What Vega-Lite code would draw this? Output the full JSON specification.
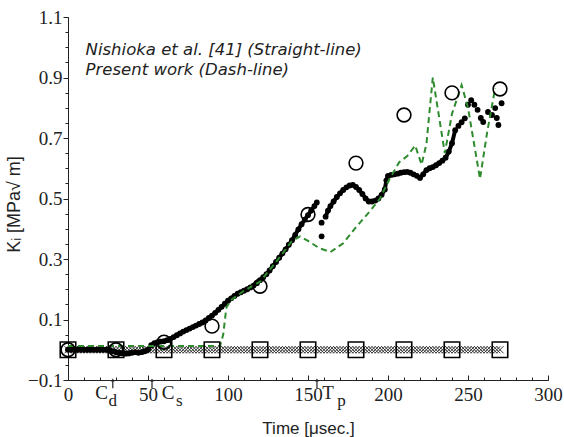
{
  "$schema": "https://vega.github.io/schema/vega-lite/v6.json",
  "width": 480,
  "height": 363,
  "autosize": {"type": "none"},
  "padding": {"left": 68, "top": 17, "right": 16, "bottom": 57},
  "background": "white",
  "config": {"view": {"stroke": null}, "axis": {"grid": false}},
  "resolve": {"axis": {"x": "independent", "y": "independent"}},
  "datasets": {
    "hatch": [{"t":0,"k":0},{"t":2,"k":0},{"t":4,"k":0},{"t":6,"k":0},{"t":8,"k":0},{"t":10,"k":0},{"t":12,"k":0},{"t":14,"k":0},{"t":16,"k":0},{"t":18,"k":0},{"t":20,"k":0},{"t":22,"k":0},{"t":24,"k":0},{"t":26,"k":0},{"t":28,"k":0},{"t":30,"k":0},{"t":32,"k":0},{"t":34,"k":0},{"t":36,"k":0},{"t":38,"k":0},{"t":40,"k":0},{"t":42,"k":0},{"t":44,"k":0},{"t":46,"k":0},{"t":48,"k":0},{"t":50,"k":0},{"t":52,"k":0},{"t":54,"k":0},{"t":56,"k":0},{"t":58,"k":0},{"t":60,"k":0},{"t":62,"k":0},{"t":64,"k":0},{"t":66,"k":0},{"t":68,"k":0},{"t":70,"k":0},{"t":72,"k":0},{"t":74,"k":0},{"t":76,"k":0},{"t":78,"k":0},{"t":80,"k":0},{"t":82,"k":0},{"t":84,"k":0},{"t":86,"k":0},{"t":88,"k":0},{"t":90,"k":0},{"t":92,"k":0},{"t":94,"k":0},{"t":96,"k":0},{"t":98,"k":0},{"t":100,"k":0},{"t":102,"k":0},{"t":104,"k":0},{"t":106,"k":0},{"t":108,"k":0},{"t":110,"k":0},{"t":112,"k":0},{"t":114,"k":0},{"t":116,"k":0},{"t":118,"k":0},{"t":120,"k":0},{"t":122,"k":0},{"t":124,"k":0},{"t":126,"k":0},{"t":128,"k":0},{"t":130,"k":0},{"t":132,"k":0},{"t":134,"k":0},{"t":136,"k":0},{"t":138,"k":0},{"t":140,"k":0},{"t":142,"k":0},{"t":144,"k":0},{"t":146,"k":0},{"t":148,"k":0},{"t":150,"k":0},{"t":152,"k":0},{"t":154,"k":0},{"t":156,"k":0},{"t":158,"k":0},{"t":160,"k":0},{"t":162,"k":0},{"t":164,"k":0},{"t":166,"k":0},{"t":168,"k":0},{"t":170,"k":0},{"t":172,"k":0},{"t":174,"k":0},{"t":176,"k":0},{"t":178,"k":0},{"t":180,"k":0},{"t":182,"k":0},{"t":184,"k":0},{"t":186,"k":0},{"t":188,"k":0},{"t":190,"k":0},{"t":192,"k":0},{"t":194,"k":0},{"t":196,"k":0},{"t":198,"k":0},{"t":200,"k":0},{"t":202,"k":0},{"t":204,"k":0},{"t":206,"k":0},{"t":208,"k":0},{"t":210,"k":0},{"t":212,"k":0},{"t":214,"k":0},{"t":216,"k":0},{"t":218,"k":0},{"t":220,"k":0},{"t":222,"k":0},{"t":224,"k":0},{"t":226,"k":0},{"t":228,"k":0},{"t":230,"k":0},{"t":232,"k":0},{"t":234,"k":0},{"t":236,"k":0},{"t":238,"k":0},{"t":240,"k":0},{"t":242,"k":0},{"t":244,"k":0},{"t":246,"k":0},{"t":248,"k":0},{"t":250,"k":0},{"t":252,"k":0},{"t":254,"k":0},{"t":256,"k":0},{"t":258,"k":0},{"t":260,"k":0},{"t":262,"k":0},{"t":264,"k":0},{"t":266,"k":0},{"t":268,"k":0},{"t":270,"k":0}],
    "dots": [{"t":0,"k":0},{"t":2,"k":0},{"t":4,"k":0},{"t":6,"k":0},{"t":8,"k":0},{"t":10,"k":0},{"t":12,"k":0},{"t":14,"k":0},{"t":16,"k":0},{"t":18,"k":0},{"t":20,"k":0},{"t":22,"k":0},{"t":24,"k":0},{"t":26,"k":-0.002},{"t":28,"k":-0.005},{"t":30,"k":-0.008},{"t":32,"k":-0.01},{"t":34,"k":-0.012},{"t":36,"k":-0.013},{"t":38,"k":-0.012},{"t":40,"k":-0.01},{"t":42,"k":-0.008},{"t":44,"k":-0.01},{"t":46,"k":-0.008},{"t":48,"k":-0.005},{"t":50,"k":0.0},{"t":52,"k":0.015},{"t":54,"k":0.022},{"t":56,"k":0.025},{"t":58,"k":0.027},{"t":60,"k":0.028},{"t":62,"k":0.032},{"t":64,"k":0.036},{"t":66,"k":0.042},{"t":68,"k":0.048},{"t":70,"k":0.054},{"t":72,"k":0.06},{"t":74,"k":0.065},{"t":76,"k":0.07},{"t":78,"k":0.075},{"t":80,"k":0.08},{"t":82,"k":0.085},{"t":84,"k":0.09},{"t":86,"k":0.097},{"t":88,"k":0.105},{"t":90,"k":0.113},{"t":92,"k":0.122},{"t":94,"k":0.132},{"t":96,"k":0.142},{"t":98,"k":0.152},{"t":100,"k":0.162},{"t":102,"k":0.17},{"t":104,"k":0.178},{"t":106,"k":0.185},{"t":108,"k":0.19},{"t":110,"k":0.195},{"t":112,"k":0.2},{"t":114,"k":0.206},{"t":116,"k":0.212},{"t":118,"k":0.22},{"t":120,"k":0.23},{"t":122,"k":0.24},{"t":124,"k":0.25},{"t":126,"k":0.262},{"t":128,"k":0.276},{"t":130,"k":0.29},{"t":132,"k":0.304},{"t":134,"k":0.318},{"t":136,"k":0.332},{"t":138,"k":0.347},{"t":140,"k":0.362},{"t":142,"k":0.38},{"t":144,"k":0.398},{"t":146,"k":0.415},{"t":148,"k":0.43},{"t":150,"k":0.445},{"t":152,"k":0.46},{"t":154,"k":0.475},{"t":155.5,"k":0.487},{"t":158.5,"k":0.42},{"t":158.5,"k":0.375},{"t":161,"k":0.44},{"t":162.5,"k":0.46},{"t":164,"k":0.475},{"t":166,"k":0.49},{"t":168,"k":0.505},{"t":170,"k":0.517},{"t":172,"k":0.528},{"t":174,"k":0.537},{"t":176,"k":0.543},{"t":178,"k":0.545},{"t":180,"k":0.538},{"t":182,"k":0.528},{"t":184,"k":0.515},{"t":186,"k":0.5},{"t":188,"k":0.49},{"t":190,"k":0.49},{"t":192,"k":0.493},{"t":194,"k":0.5},{"t":196,"k":0.512},{"t":198,"k":0.53},{"t":199,"k":0.56},{"t":200,"k":0.575},{"t":202,"k":0.578},{"t":204,"k":0.58},{"t":206,"k":0.582},{"t":208,"k":0.585},{"t":210,"k":0.587},{"t":212,"k":0.588},{"t":214,"k":0.585},{"t":216,"k":0.58},{"t":218,"k":0.575},{"t":220,"k":0.568},{"t":222,"k":0.58},{"t":224,"k":0.594},{"t":226,"k":0.6},{"t":228,"k":0.604},{"t":230,"k":0.61},{"t":232,"k":0.617},{"t":234,"k":0.625},{"t":236,"k":0.635},{"t":238,"k":0.655},{"t":240,"k":0.683},{"t":242,"k":0.726},{"t":244,"k":0.74},{"t":246,"k":0.752},{"t":248,"k":0.765},{"t":250,"k":0.81},{"t":252,"k":0.825},{"t":254,"k":0.81},{"t":256,"k":0.793},{"t":258,"k":0.766},{"t":259.5,"k":0.753},{"t":262.5,"k":0.786},{"t":265,"k":0.776},{"t":267,"k":0.799},{"t":268,"k":0.766},{"t":269,"k":0.743},{"t":271,"k":0.815}],
    "green": [{"t":0,"k":0.012},{"t":95,"k":0.012},{"t":97,"k":0.05},{"t":99,"k":0.14},{"t":102,"k":0.165},{"t":110,"k":0.195},{"t":120,"k":0.225},{"t":130,"k":0.29},{"t":140,"k":0.36},{"t":145,"k":0.375},{"t":150,"k":0.36},{"t":157,"k":0.336},{"t":164,"k":0.323},{"t":172,"k":0.352},{"t":180,"k":0.405},{"t":189,"k":0.46},{"t":195,"k":0.5},{"t":201,"k":0.565},{"t":207,"k":0.62},{"t":212,"k":0.64},{"t":217,"k":0.675},{"t":221,"k":0.612},{"t":224,"k":0.68},{"t":228,"k":0.9},{"t":235.5,"k":0.65},{"t":240,"k":0.78},{"t":246,"k":0.875},{"t":250,"k":0.8},{"t":257.5,"k":0.565},{"t":262,"k":0.72},{"t":267,"k":0.865}],
    "circles": [{"t":0,"k":0},{"t":30,"k":0},{"t":60,"k":0.025},{"t":90,"k":0.078},{"t":120,"k":0.21},{"t":150,"k":0.447},{"t":180,"k":0.617},{"t":210,"k":0.776},{"t":240,"k":0.849},{"t":270,"k":0.862}],
    "squares": [{"t":0,"k":0},{"t":30,"k":0},{"t":60,"k":0},{"t":90,"k":0},{"t":120,"k":0},{"t":150,"k":0},{"t":180,"k":0},{"t":210,"k":0},{"t":240,"k":0},{"t":270,"k":0}],
    "notes": [{"t":11,"k":0.991,"txt":"Nishioka et al. [41] (Straight-line)"},{"t":11,"k":0.925,"txt":"Present work (Dash-line)"}],
    "marks": [{"t":21,"txt":"C"},{"t":62.5,"txt":"C"},{"t":162.5,"txt":"T"}],
    "subs": [{"t":28,"txt":"d"},{"t":69.5,"txt":"s"},{"t":171,"txt":"p"}],
    "arrows": [{"t":28,"k0":-0.1,"k1":-0.127},{"t":52.5,"k0":-0.1,"k1":-0.127},{"t":155.6,"k0":-0.1,"k1":-0.127}]
  },
  "layer": [
    {
      "data": {"name": "hatch"},
      "mark": {"type": "point", "shape": "M-1,-1L1,1M-1,1L1,-1", "filled": false, "size": 50, "stroke": "#333333", "strokeWidth": 1, "opacity": 1},
      "encoding": {
        "x": {"field": "t", "type": "quantitative", "scale": {"domain": [0, 300], "nice": false, "zero": false},
          "axis": {"orient": "bottom", "values": [0,50,100,150,200,250,300],
            "title": "Time [μsec.]", "titleFont": "Liberation Sans", "titleFontSize": 17, "titleFontWeight": "normal", "titleColor": "#222222", "titlePadding": 16,
            "labelFont": "Liberation Serif", "labelFontSize": 19, "labelColor": "#222222", "labelPadding": 10, "labelFlush": false, "labelOverlap": false,
            "domainColor": "#222222", "tickColor": "#222222", "tickSize": -5}},
        "y": {"field": "k", "type": "quantitative", "scale": {"domain": [-0.1, 1.1], "nice": false, "zero": false},
          "axis": {"orient": "left", "values": [-0.1,0.1,0.3,0.5,0.7,0.9,1.1], "format": ".1f",
            "title": "Kᵢ [MPa√ m]", "titleFont": "Liberation Sans", "titleFontSize": 18, "titleFontWeight": "normal", "titleColor": "#222222",
            "titleX": -54, "titleY": 187, "titleBaseline": "middle", "titleAnchor": "middle", "titleAngle": 270,
            "labelFont": "Liberation Serif", "labelFontSize": 19, "labelColor": "#222222", "labelPadding": 1, "labelFlush": false, "labelOverlap": false,
            "domainColor": "#222222", "tickColor": "#222222", "tickSize": 5}}
      }
    },
    {
      "data": {"name": "dots"},
      "transform": [{"filter": "datum.t <= 155.5"}],
      "mark": {"type": "line", "color": "#000000", "strokeWidth": 4},
      "encoding": {
        "x": {"field": "t", "type": "quantitative",
          "axis": {"orient": "bottom", "values": [0,10,20,30,40,50,60,70,80,90,100,110,120,130,140,150,160,170,180,190,200,210,220,230,240,250,260,270,280,290,300],
            "labels": false, "title": null, "domain": false, "tickColor": "#222222", "tickSize": -3}},
        "y": {"field": "k", "type": "quantitative",
          "axis": {"orient": "left", "values": [-0.1,-0.05,0,0.05,0.1,0.15,0.2,0.25,0.3,0.35,0.4,0.45,0.5,0.55,0.6,0.65,0.7,0.75,0.8,0.85,0.9,0.95,1.0,1.05,1.1],
            "labels": false, "title": null, "domain": false, "tickColor": "#222222", "tickSize": 3}}
      }
    },
    {
      "data": {"name": "dots"},
      "transform": [{"filter": "datum.t >= 161 && datum.t <= 242"}],
      "mark": {"type": "line", "color": "#000000", "strokeWidth": 4},
      "encoding": {"x": {"field": "t", "type": "quantitative", "axis": null}, "y": {"field": "k", "type": "quantitative", "axis": null}}
    },
    {
      "data": {"name": "dots"},
      "mark": {"type": "circle", "size": 34, "color": "#000000", "opacity": 1},
      "encoding": {"x": {"field": "t", "type": "quantitative", "axis": null}, "y": {"field": "k", "type": "quantitative", "axis": null}}
    },
    {
      "data": {"name": "green"},
      "mark": {"type": "line", "color": "#2e8b2e", "strokeWidth": 2, "strokeDash": [6, 4]},
      "encoding": {"x": {"field": "t", "type": "quantitative", "axis": null}, "y": {"field": "k", "type": "quantitative", "axis": null}}
    },
    {
      "data": {"name": "squares"},
      "mark": {"type": "point", "shape": "square", "filled": false, "size": 240, "stroke": "#000000", "strokeWidth": 1.6, "opacity": 1},
      "encoding": {"x": {"field": "t", "type": "quantitative", "axis": null}, "y": {"field": "k", "type": "quantitative", "axis": null}}
    },
    {
      "data": {"name": "circles"},
      "mark": {"type": "point", "shape": "circle", "filled": false, "size": 190, "stroke": "#000000", "strokeWidth": 1.6, "opacity": 1},
      "encoding": {"x": {"field": "t", "type": "quantitative", "axis": null}, "y": {"field": "k", "type": "quantitative", "axis": null}}
    },
    {
      "data": {"name": "notes"},
      "mark": {"type": "text", "align": "left", "baseline": "middle", "font": "DejaVu Sans", "fontSize": 16.5, "fontStyle": "italic", "color": "#222222"},
      "encoding": {"x": {"field": "t", "type": "quantitative", "axis": null}, "y": {"field": "k", "type": "quantitative", "axis": null}, "text": {"field": "txt"}}
    },
    {
      "data": {"name": "marks"},
      "mark": {"type": "text", "align": "center", "baseline": "middle", "font": "Liberation Serif", "fontSize": 19, "color": "#222222", "dy": 13},
      "encoding": {"x": {"field": "t", "type": "quantitative", "axis": null}, "y": {"datum": -0.1, "axis": null}, "text": {"field": "txt"}}
    },
    {
      "data": {"name": "subs"},
      "mark": {"type": "text", "align": "center", "baseline": "middle", "font": "Liberation Serif", "fontSize": 17, "color": "#222222", "dy": 21},
      "encoding": {"x": {"field": "t", "type": "quantitative", "axis": null}, "y": {"datum": -0.1, "axis": null}, "text": {"field": "txt"}}
    },
    {
      "data": {"name": "arrows"},
      "mark": {"type": "rule", "color": "#222222", "strokeWidth": 1.2},
      "encoding": {"x": {"field": "t", "type": "quantitative", "axis": null}, "y": {"field": "k0", "type": "quantitative", "axis": null}, "y2": {"field": "k1"}}
    },
    {
      "data": {"name": "arrows"},
      "mark": {"type": "point", "shape": "triangle-up", "filled": true, "size": 14, "color": "#222222", "opacity": 1},
      "encoding": {"x": {"field": "t", "type": "quantitative", "axis": null}, "y": {"field": "k0", "type": "quantitative", "axis": null}}
    }
  ]
}
